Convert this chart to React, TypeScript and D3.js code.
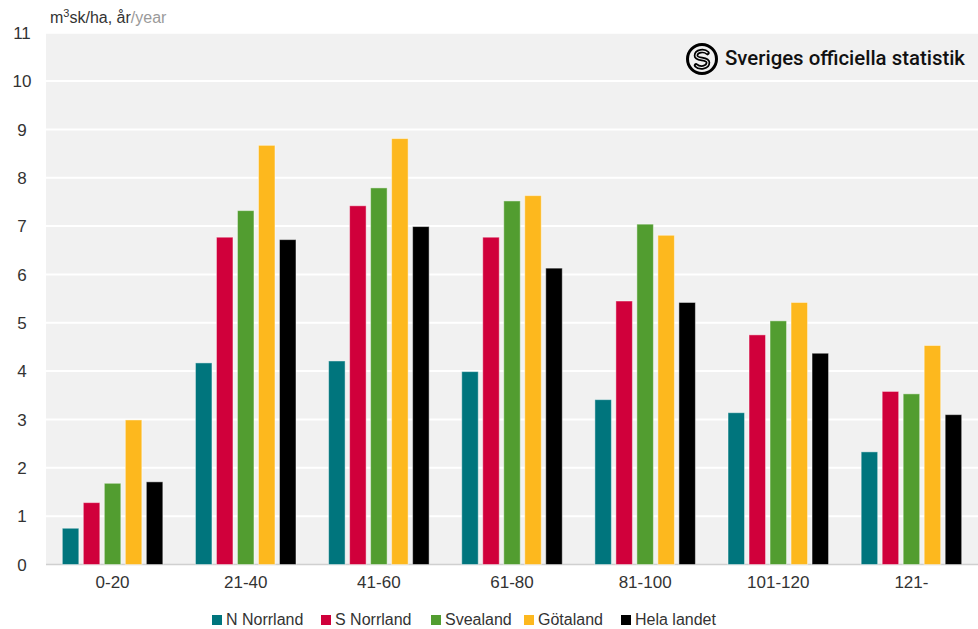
import React from "react";
import * as d3 from "d3";

const categories = ["0-20", "21-40", "41-60", "61-80", "81-100", "101-120", "121-"];
const seriesNames = ["N Norrland", "S Norrland", "Svealand", "Götaland", "Hela landet"];
const nNorrland = [0.75, 4.17, 4.21, 3.99, 3.41, 3.14, 2.33];
const sNorrland = [1.28, 6.77, 7.42, 6.77, 5.45, 4.75, 3.58];
const svealand = [1.68, 7.32, 7.79, 7.52, 7.04, 5.04, 3.53];
const gotaland = [2.99, 8.67, 8.81, 7.63, 6.81, 5.42, 4.53];
const helaLandet = [1.71, 6.72, 6.99, 6.13, 5.42, 4.37, 3.1];
const colors = ["#00757d", "#d0003b", "#529d30", "#fdb81e", "#000000"];
const yTicks = [0, 1, 2, 3, 4, 5, 6, 7, 8, 9, 10, 11];

const seriesValues = [nNorrland, sNorrland, svealand, gotaland, helaLandet];

export default function App() {
  const W = 978, H = 629;
  const left = 46, right = 978, top = 32.7, bottom = 564.5;
  const font = "'Liberation Sans', Arial, sans-serif";

  const y = d3.scaleLinear().domain([0, 11]).range([bottom, top]);
  const x0 = d3.scaleBand<string>().domain(categories).range([left, right]).paddingInner(0.245).paddingOuter(0.1225);
  const x1 = d3.scaleBand<string>().domain(seriesNames).range([0, x0.bandwidth()]).paddingInner(0.214);

  const legendX = [212, 321, 431, 524, 621];
  const sPath = "M 5.5,-6 C 2.5,-9 -6,-8.5 -6,-3.2 C -6,1.6 6,-1.6 6,3.6 C 6,9 -2.5,9.8 -6,6.3";

  return (
    <svg width={W} height={H} style={{ position: "absolute", left: 0, top: 0, display: "block" }} fontFamily={font}>
      <rect x={0} y={0} width={W} height={H} fill="#ffffff" />
      <rect x={left} y={top} width={right - left} height={bottom - top} fill="#f1f1f1" />
      {yTicks.map((t) => (
        <g key={t}>
          {t > 0 && (
            <line x1={left} x2={right} y1={y(t)} y2={y(t)} stroke="#ffffff" strokeWidth={2} />
          )}
          <text x={22} y={y(t)} dy="0.36em" textAnchor="middle" fontSize={17} fill="#333">
            {t}
          </text>
        </g>
      ))}
      <line x1={left} x2={right} y1={bottom} y2={bottom} stroke="#d0d0d0" strokeWidth={1.5} />
      {categories.map((c, i) => (
        <g key={c} transform={`translate(${x0(c)},0)`}>
          {seriesNames.map((s, j) => {
            const v = seriesValues[j][i];
            return (
              <rect
                key={s}
                x={x1(s)}
                y={y(v)}
                width={x1.bandwidth()}
                height={y(0) - y(v)}
                fill={colors[j]}
                stroke="rgba(255,255,255,0.45)"
                strokeWidth={1}
              />
            );
          })}
          <text x={x0.bandwidth() / 2} y={588} textAnchor="middle" fontSize={17} fill="#333">
            {c}
          </text>
        </g>
      ))}
      <text x={50} y={23} fontSize={16} fill="#333">
        m<tspan dy={-6} fontSize={11}>3</tspan>
        <tspan dy={6}>sk/ha, år</tspan>
        <tspan fill="#9a9a9a">/year</tspan>
      </text>
      <g transform="translate(702,59)">
        <circle r={14.5} fill="none" stroke="#000" strokeWidth={3} />
        <path d={sPath} fill="none" stroke="#000" strokeWidth={4.5} strokeLinecap="round" />
        <path d={sPath} fill="none" stroke="#f1f1f1" strokeWidth={1.1} />
      </g>
      <text x={725} y={65} fontSize={20} fontWeight={500} fill="#111" fontFamily="Roboto, sans-serif" textLength={240} lengthAdjust="spacingAndGlyphs">
        Sveriges officiella statistik
      </text>
      {seriesNames.map((s, j) => (
        <g key={s}>
          <rect x={legendX[j]} y={615} width={10} height={10} fill={colors[j]} />
          <text x={legendX[j] + 14} y={625} fontSize={16} fill="#333">
            {s}
          </text>
        </g>
      ))}
    </svg>
  );
}
